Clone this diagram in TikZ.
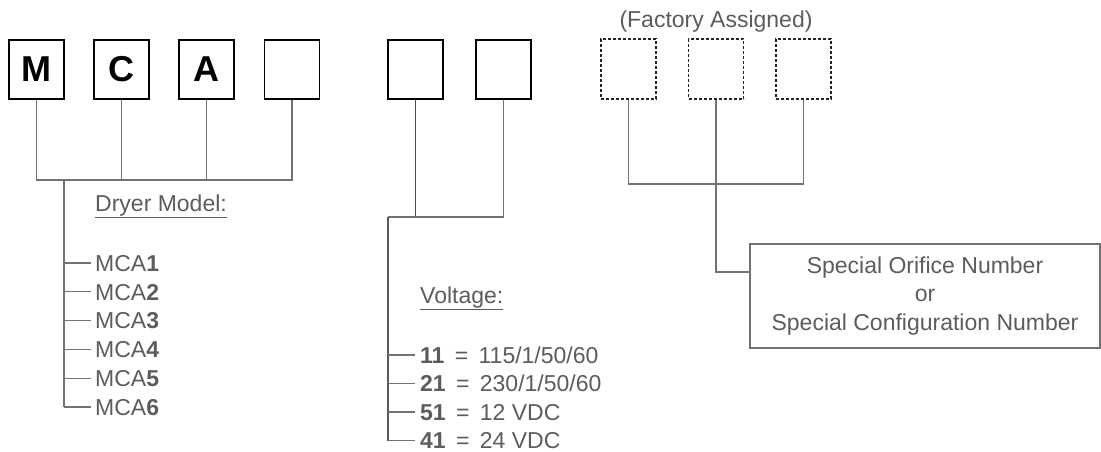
\documentclass[tikz,border=0pt]{standalone}
\usepackage{fontspec}
\setmainfont{Liberation Sans}
\usetikzlibrary{positioning}
\definecolor{txtgray}{HTML}{5C5C5C}
\definecolor{linegray}{HTML}{727272}
\newcommand{\eqsep}{\hspace{0.45em}=\hspace{0.45em}}
\tikzset{
    digit/.style={
           rectangle,
           draw=black, line width=1.3pt,
           minimum width=55pt,
           minimum height=59pt,
           font=\fontsize{36}{36}\selectfont\bfseries
           },
    assigned/.style={
           rectangle,
           draw=black!85, line width=1.3pt,
           dash pattern=on 3pt off 2pt,
           minimum width=55pt,
           minimum height=60pt
           },
    link/.style={
           draw=linegray, line width=1.2pt
           },
    item/.style={
           anchor=west,
           text=txtgray,
           inner xsep=4pt, inner ysep=0pt,
           text height=16.5pt, text depth=0pt,
           font=\fontsize{23}{23}\selectfont
           },
    factory/.style={
           text=txtgray,
           font=\fontsize{23}{28.5}\selectfont
           }
}

\begin{document}
\begin{tikzpicture}[x=1pt, y=-1pt, node distance=85pt, on grid]
\useasboundingbox (0,0) rectangle (1101,451);
% model code boxes
   \node[digit] (m) at (36.5,69.5) {M};
   \node[digit] (c) [right=of m] {C};
   \node[digit] (a) [right=of c] {A};
   \node[digit] (blank) [right=85.5pt of a] {};
   \node[digit] (volt1) at (415.5,69.5) {};
   \node[digit] (volt2) [right=88pt of volt1] {};
   \node[assigned] (fa1) at (628.5,69) {};
   \node[assigned] (fa2) [right=87.5pt of fa1] {};
   \node[assigned] (fa3) [right=87.5pt of fa2] {};
   \node[factory] (assignedlbl) [above=47pt of fa2] {(Factory Assigned)};
% dryer model
   \coordinate (mj) at (64,180);
   \node[item] (dryer) at (91,203) {\underline{Dryer Model:}};
   \node[item] (mca1) at (91,263) {MCA\textbf{1}};
   \node[item] (mca2) [below=28.8pt of mca1.west, anchor=west] {MCA\textbf{2}};
   \node[item] (mca3) [below=28.8pt of mca2.west, anchor=west] {MCA\textbf{3}};
   \node[item] (mca4) [below=28.8pt of mca3.west, anchor=west] {MCA\textbf{4}};
   \node[item] (mca5) [below=28.8pt of mca4.west, anchor=west] {MCA\textbf{5}};
   \node[item] (mca6) [below=28.8pt of mca5.west, anchor=west] {MCA\textbf{6}};
% voltage
   \coordinate (vj) at (388,217);
   \node[item, inner xsep=5pt] (voltage) at (415,295) {\underline{Voltage:}};
   \node[item, inner xsep=5pt] (v11) at (415,355) {\textbf{11}\eqsep115/1/50/60};
   \node[item, inner xsep=5pt] (v21) [below=28.5pt of v11.west, anchor=west] {\textbf{21}\eqsep230/1/50/60};
   \node[item, inner xsep=5pt] (v51) [below=28.5pt of v21.west, anchor=west] {\textbf{51}\eqsep12 VDC};
   \node[item, inner xsep=5pt] (v41) [below=28.5pt of v51.west, anchor=west] {\textbf{41}\eqsep24 VDC};
% special number
   \coordinate (fj) at (716,184);
   \node[factory, draw=linegray, line width=1.3pt, align=center,
         minimum width=350pt, minimum height=104pt] (special) at (925,296)
         {Special Orifice Number\\or\\Special Configuration Number};
% connectors
   \draw[link] (m.south) -- (m.south |- mj) -- (blank.south |- mj) -- (blank.south);
   \draw[link] (c.south) -- (c.south |- mj);
   \draw[link] (a.south) -- (a.south |- mj);
   \draw[link, line width=1.5pt] (mj) -- (mj |- mca6);
   \draw[link] (mj |- mca1) -- (mca1.west);
   \draw[link] (mj |- mca2) -- (mca2.west);
   \draw[link] (mj |- mca3) -- (mca3.west);
   \draw[link] (mj |- mca4) -- (mca4.west);
   \draw[link] (mj |- mca5) -- (mca5.west);
   \draw[link] (mj |- mca6) -- (mca6.west);
   \draw[link, draw=black!70, line width=1.8pt] (volt1.south) -- (volt1.south |- vj);
   \draw[link] (vj) -- (volt2.south |- vj) -- (volt2.south);
   \draw[link, draw=black!65, line width=1.8pt] (vj) -- (vj |- v41);
   \draw[link] (vj |- v11) -- (v11.west);
   \draw[link] (vj |- v21) -- (v21.west);
   \draw[link] (vj |- v51) -- (v51.west);
   \draw[link] (vj |- v41) -- (v41.west);
   \draw[link] (fa1.south) -- (fa1.south |- fj) -- (fa3.south |- fj) -- (fa3.south);
   \draw[link] (fa2.south) |- ([yshift=24pt]special.west);
\end{tikzpicture}
\end{document}
